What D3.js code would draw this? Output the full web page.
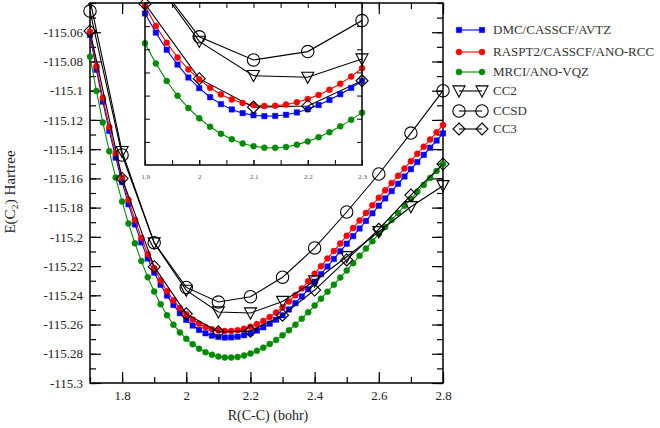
<!DOCTYPE html>
<html>
<head>
<meta charset="utf-8">
<script src="https://cdn.jsdelivr.net/npm/d3@7"></script>
<style>
  body { margin: 0; background: #fff; }
  svg text { font-family: "Liberation Serif", "DejaVu Serif", serif; }
</style>
</head>
<body>
<div id="chart"></div>
<script>
const width = 660;
const height = 428;

// fine grid of the three curves (R in bohr)
const rFine = [1.70, 1.72, 1.74, 1.76, 1.78, 1.80, 1.82, 1.84, 1.86, 1.88,
  1.90, 1.92, 1.94, 1.96, 1.98, 2.00, 2.02, 2.04, 2.06, 2.08,
  2.10, 2.12, 2.14, 2.16, 2.18, 2.20, 2.22, 2.24, 2.26, 2.28,
  2.30, 2.32, 2.34, 2.36, 2.38, 2.40, 2.42, 2.44, 2.46, 2.48,
  2.50, 2.52, 2.54, 2.56, 2.58, 2.60, 2.62, 2.64, 2.66, 2.68,
  2.70, 2.72, 2.74, 2.76, 2.78, 2.80];

const eBlue = [-115.0619, -115.0857, -115.1075, -115.1275, -115.1458, -115.1625, -115.1777, -115.1915, -115.2038, -115.2148,
  -115.2245, -115.2328, -115.2402, -115.2466, -115.2522, -115.2568, -115.2607, -115.2637, -115.2660, -115.2676,
  -115.2685, -115.2689, -115.2688, -115.2683, -115.2673, -115.2659, -115.2641, -115.2619, -115.2594, -115.2567,
  -115.2537, -115.2497, -115.2454, -115.2408, -115.2359, -115.2307, -115.2255, -115.2203, -115.2151, -115.2099,
  -115.2047, -115.1995, -115.1943, -115.1891, -115.1839, -115.1787, -115.1737, -115.1687, -115.1637, -115.1587,
  -115.1537, -115.1488, -115.1439, -115.1390, -115.1341, -115.1292];

const eRed = [-115.0596, -115.0832, -115.1049, -115.1248, -115.1430, -115.1596, -115.1747, -115.1884, -115.2007, -115.2117,
  -115.2213, -115.2299, -115.2372, -115.2435, -115.2487, -115.2530, -115.2566, -115.2595, -115.2617, -115.2632,
  -115.2641, -115.2645, -115.2644, -115.2639, -115.2629, -115.2615, -115.2597, -115.2575, -115.2549, -115.2518,
  -115.2482, -115.2442, -115.2399, -115.2353, -115.2304, -115.2252, -115.2201, -115.2149, -115.2097, -115.2045,
  -115.1992, -115.1940, -115.1888, -115.1836, -115.1784, -115.1732, -115.1682, -115.1632, -115.1582, -115.1532,
  -115.1482, -115.1432, -115.1383, -115.1334, -115.1285, -115.1235];

const eGreen = [-115.0767, -115.1002, -115.1217, -115.1414, -115.1594, -115.1759, -115.1909, -115.2044, -115.2166, -115.2276,
  -115.2374, -115.2461, -115.2537, -115.2601, -115.2654, -115.2698, -115.2735, -115.2765, -115.2789, -115.2807,
  -115.2819, -115.2825, -115.2826, -115.2822, -115.2812, -115.2798, -115.2780, -115.2758, -115.2733, -115.2705,
  -115.2674, -115.2639, -115.2601, -115.2560, -115.2516, -115.2470, -115.2423, -115.2375, -115.2327, -115.2279,
  -115.2230, -115.2180, -115.2130, -115.2080, -115.2030, -115.1980, -115.1932, -115.1884, -115.1836, -115.1788,
  -115.1740, -115.1692, -115.1645, -115.1597, -115.1550, -115.1502];

// coarse grid of the three black curves
const rCoarse = [1.7, 1.8, 1.9, 2.0, 2.1, 2.2, 2.3, 2.4, 2.5, 2.6, 2.7, 2.8];
const eTri = [-115.038, -115.1417, -115.2042, -115.2366, -115.2514, -115.2521, -115.2442, -115.2302, -115.2136, -115.1965, -115.1794, -115.1650];
const eCirc = [-115.0455, -115.1440, -115.2040, -115.2346, -115.2446, -115.2410, -115.2276, -115.2076, -115.1830, -115.1570, -115.1290, -115.1000];
const eDiam = [-115.0591, -115.1600, -115.2204, -115.2527, -115.2650, -115.2645, -115.2536, -115.2364, -115.2158, -115.1948, -115.1714, -115.1502];

const legendLabels = ["DMC/CASSCF/AVTZ", "RASPT2/CASSCF/ANO-RCC", "MRCI/ANO-VQZ", "CC2", "CCSD", "CC3"];

const xTicks = [1.8, 2.0, 2.2, 2.4, 2.6, 2.8];
const yTicks = [-115.3, -115.28, -115.26, -115.24, -115.22, -115.2, -115.18, -115.16, -115.14, -115.12, -115.1, -115.08, -115.06];
const insetXTicks = [1.9, 2.0, 2.1, 2.2, 2.3];

const series = [
  { name: legendLabels[0], r: rFine, e: eBlue, color: "#0000ff", sym: "square", size: 2.7 },
  { name: legendLabels[1], r: rFine, e: eRed, color: "#ff0000", sym: "circle", size: 3 },
  { name: legendLabels[2], r: rFine, e: eGreen, color: "#008b00", sym: "circle", size: 3 },
  { name: legendLabels[3], r: rCoarse, e: eTri, color: "#000", sym: "tri", size: 6, open: true },
  { name: legendLabels[4], r: rCoarse, e: eCirc, color: "#000", sym: "circle", size: 6.2, open: true },
  { name: legendLabels[5], r: rCoarse, e: eDiam, color: "#000", sym: "diamond", size: 6, open: true }
];

function symPath(sym, s) {
  if (sym === "square") return `M${-s},${-s}H${s}V${s}H${-s}Z`;
  if (sym === "tri") return `M${-s},${-s * 0.85}H${s}L0,${s}Z`;
  if (sym === "diamond") return `M0,${-s}L${s},0L0,${s}L${-s},0Z`;
  return `M${s},0A${s},${s} 0 1,1 ${-s},0A${s},${s} 0 1,1 ${s},0Z`;
}

const svg = d3.select("#chart")
  .append("svg")
  .attr("width", width)
  .attr("height", height);

const main = { left: 90, right: 443, top: 3, bottom: 383 };
const x = d3.scaleLinear().domain([1.7, 2.8]).range([main.left, main.right]);
const y = d3.scaleLinear().domain([-115.3, -115.04]).range([main.bottom, main.top]);

const fmt = d => String(+d.toFixed(2));

svg.append("defs").append("clipPath").attr("id", "clipMain")
  .append("rect").attr("x", 80).attr("y", main.top).attr("width", 370).attr("height", main.bottom - main.top);

// main axes: minor ticks then major ticks, all pointing inward
function addAxis(g, axis) {
  g.call(axis);
  g.select(".domain").remove();
  g.selectAll("line").attr("stroke", "#000").attr("stroke-width", 1.2);
  g.selectAll("text").attr("fill", "#222").style("font-size", "13px");
}

const xMinor = d3.range(1.7, 2.801, 0.1);
const yMinor = d3.range(-115.3, -115.039, 0.01);

addAxis(svg.append("g").attr("transform", `translate(0,${main.bottom})`),
  d3.axisBottom(x).tickValues(xMinor).tickSize(-6).tickFormat(""));
addAxis(svg.append("g").attr("transform", `translate(0,${main.bottom})`),
  d3.axisBottom(x).tickValues(xTicks).tickSize(-11).tickPadding(8).tickFormat(fmt));
addAxis(svg.append("g").attr("transform", `translate(0,${main.top})`),
  d3.axisTop(x).tickValues(xMinor).tickSize(-6).tickFormat(""));
addAxis(svg.append("g").attr("transform", `translate(0,${main.top})`),
  d3.axisTop(x).tickValues(xTicks).tickSize(-11).tickFormat(""));
addAxis(svg.append("g").attr("transform", `translate(${main.left},0)`),
  d3.axisLeft(y).tickValues(yMinor).tickSize(-6).tickFormat(""));
addAxis(svg.append("g").attr("transform", `translate(${main.left},0)`),
  d3.axisLeft(y).tickValues(yTicks).tickSize(-11).tickPadding(7).tickFormat(fmt));
addAxis(svg.append("g").attr("transform", `translate(${main.right},0)`),
  d3.axisRight(y).tickValues(yMinor).tickSize(-6).tickFormat(""));
addAxis(svg.append("g").attr("transform", `translate(${main.right},0)`),
  d3.axisRight(y).tickValues(yTicks).tickSize(-11).tickFormat(""));

svg.append("rect")
  .attr("x", main.left).attr("y", main.top)
  .attr("width", main.right - main.left).attr("height", main.bottom - main.top)
  .attr("fill", "none").attr("stroke", "#000").attr("stroke-width", 1.5);

// curves in the main panel
function drawSeries(layer, xs, ys, filter) {
  series.forEach(s => {
    const pts = s.r.map((r, i) => [r, s.e[i]]);
    layer.append("path")
      .attr("d", d3.line().x(d => xs(d[0])).y(d => ys(d[1]))(pts))
      .attr("fill", "none").attr("stroke", s.color).attr("stroke-width", 1.1);
    layer.selectAll(null)
      .data(pts.filter(filter))
      .enter().append("path")
      .attr("transform", d => `translate(${xs(d[0])},${ys(d[1])})`)
      .attr("d", symPath(s.sym, s.size))
      .attr("fill", s.open ? "none" : s.color)
      .attr("stroke", s.color)
      .attr("stroke-width", s.open ? 1.1 : 0.5);
  });
}

const mainLayer = svg.append("g").attr("clip-path", "url(#clipMain)");
drawSeries(mainLayer, x, y, () => true);

// inset
const ins = { left: 145, right: 362, top: 3, bottom: 165 };
const xi = d3.scaleLinear().domain([1.9, 2.3]).range([ins.left, ins.right]);
const yi = d3.scaleLinear().domain([-115.29, -115.22]).range([ins.bottom, ins.top]);

svg.select("defs").append("clipPath").attr("id", "clipInset")
  .append("rect").attr("x", ins.left).attr("y", ins.top)
  .attr("width", ins.right - ins.left).attr("height", ins.bottom - ins.top);

svg.append("rect")
  .attr("x", ins.left).attr("y", ins.top)
  .attr("width", ins.right - ins.left).attr("height", ins.bottom - ins.top)
  .attr("fill", "#fff");

const insetLines = svg.append("g").attr("clip-path", "url(#clipInset)");
series.forEach(s => {
  const pts = s.r.map((r, i) => [r, s.e[i]]);
  insetLines.append("path")
    .attr("d", d3.line().x(d => xi(d[0])).y(d => yi(d[1]))(pts))
    .attr("fill", "none").attr("stroke", s.color).attr("stroke-width", 1.1);
});
const insetMarks = svg.append("g");
series.forEach(s => {
  const pts = s.r.map((r, i) => [r, s.e[i]])
    .filter(d => d[0] >= 1.899 && d[0] <= 2.301 && d[1] <= -115.2195 && d[1] >= -115.2905);
  insetMarks.selectAll(null)
    .data(pts)
    .enter().append("path")
    .attr("transform", d => `translate(${xi(d[0])},${yi(d[1])})`)
    .attr("d", symPath(s.sym, s.size))
    .attr("fill", s.open ? "none" : s.color)
    .attr("stroke", s.color)
    .attr("stroke-width", s.open ? 1.1 : 0.5);
});

const xiMinor = d3.range(1.9, 2.301, 0.05);
const yiMinor = d3.range(-115.28, -115.225, 0.01);

function addInsetAxis(g, axis) {
  g.call(axis);
  g.select(".domain").remove();
  g.selectAll("line").attr("stroke", "#000").attr("stroke-width", 1);
  g.selectAll("text").attr("fill", "#555").style("font-size", "7px");
}
addInsetAxis(svg.append("g").attr("transform", `translate(0,${ins.bottom})`),
  d3.axisBottom(xi).tickValues(xiMinor).tickSize(-5).tickFormat(""));
addInsetAxis(svg.append("g").attr("transform", `translate(0,${ins.bottom})`),
  d3.axisBottom(xi).tickValues(insetXTicks).tickSize(-5).tickPadding(9).tickFormat(fmt));
addInsetAxis(svg.append("g").attr("transform", `translate(0,${ins.top})`),
  d3.axisTop(xi).tickValues(xiMinor).tickSize(-5).tickFormat(""));
addInsetAxis(svg.append("g").attr("transform", `translate(${ins.left},0)`),
  d3.axisLeft(yi).tickValues(yiMinor).tickSize(-5).tickFormat(""));
addInsetAxis(svg.append("g").attr("transform", `translate(${ins.right},0)`),
  d3.axisRight(yi).tickValues(yiMinor).tickSize(-5).tickFormat(""));

svg.append("rect")
  .attr("x", ins.left).attr("y", ins.top)
  .attr("width", ins.right - ins.left).attr("height", ins.bottom - ins.top)
  .attr("fill", "none").attr("stroke", "#000").attr("stroke-width", 1.5);

// axis titles
svg.append("text")
  .attr("x", 268).attr("y", 420)
  .attr("text-anchor", "middle")
  .attr("fill", "#222")
  .style("font-size", "14px")
  .text("R(C-C) (bohr)");

svg.append("text")
  .attr("transform", "translate(15,192) rotate(-90)")
  .attr("text-anchor", "middle")
  .attr("fill", "#222")
  .style("font-size", "15px")
  .text("E(C\u2082) Hartree");

// legend
const legendY = [30, 52, 72, 91, 111, 129];
const legend = svg.append("g");
series.forEach((s, i) => {
  const g = legend.append("g").attr("transform", `translate(0,${legendY[i]})`);
  g.append("line").attr("x1", 459).attr("x2", 482).attr("y1", 0).attr("y2", 0)
    .attr("stroke", s.color).attr("stroke-width", 1.1);
  [459, 482].forEach(px => {
    g.append("path")
      .attr("transform", `translate(${px},0)`)
      .attr("d", symPath(s.sym, s.size))
      .attr("fill", s.open ? "none" : s.color)
      .attr("stroke", s.color)
      .attr("stroke-width", s.open ? 1.1 : 0.5);
  });
  g.append("text")
    .attr("x", 493).attr("y", 4)
    .attr("fill", "#333")
    .style("font-size", "13px")
    .text(s.name);
});
</script>
</body>
</html>
